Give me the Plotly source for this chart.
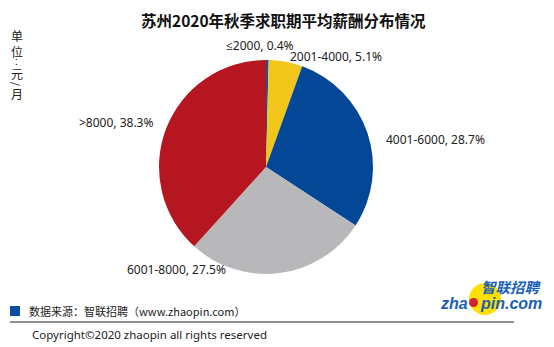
import math
import plotly.graph_objects as go

categories = ["≤2000", "2001-4000", "4001-6000", "6001-8000", ">8000"]
shares = [0.4, 5.1, 28.7, 27.5, 38.3]
colors = ["#1B4E9B", "#F1C519", "#054797", "#B8B8BA", "#B5161F"]

# label placement style: (x anchor, pixel offset dx, dy) relative to the slice's mid point on the rim
label_style = [("center", -7, -15), ("left", 2, -5), ("left", 17, 7), ("right", -52, -4), ("right", -11, -6)]

W, H = 554, 347
CX, CY, R = 266, 167, 107


def px(x):
    return x / W


def py(y):
    return 1 - y / H


fig = go.Figure(go.Pie(
    labels=categories, values=shares, sort=False, direction="clockwise", rotation=0,
    marker=dict(colors=colors, line=dict(width=0)),
    textinfo="none",
    domain=dict(x=[px(CX - R), px(CX + R)], y=[py(CY + R), py(CY - R)]),
    showlegend=False, hoverinfo="skip",
))

lab_font = dict(family="Noto Sans, Open Sans", size=12, color="#222")
font_cjk = "Noto Sans CJK SC"
ann = []
total = sum(shares)
cum = 0.0
for cat, v, (xa, dx, dy) in zip(categories, shares, label_style):
    mid = (cum + v / 2) / total * 2 * math.pi
    cum += v
    ex = CX + R * math.sin(mid)
    ey = CY - R * math.cos(mid)
    ann.append(dict(text=f"{cat}, {v:.1f}%", x=px(ex + dx), y=py(ey + dy),
                    xanchor=xa, yanchor="middle", showarrow=False, font=lab_font))

ann.append(dict(text="<b>苏州2020年秋季求职期平均薪酬分布情况</b>", x=px(283), y=py(20),
                xanchor="center", yanchor="middle", showarrow=False,
                font=dict(family=font_cjk, size=15.5, color="#111")))

unit_chars = [("单", 35, 0, 12), ("位", 51, 0, 12), ("‥", 62, 90, 10), ("元", 73, 0, 12),
              ("/", 84, 90, 10), ("月", 93, 0, 12)]
for ch, y, ang, sz in unit_chars:
    ann.append(dict(text=ch, x=px(17), y=py(y), xanchor="center", yanchor="middle",
                    showarrow=False, textangle=ang,
                    font=dict(family=font_cjk, size=sz, color="#222")))

ann.append(dict(text="数据来源：智联招聘（www.zhaopin.com）", x=px(27), y=py(311),
                xanchor="left", yanchor="middle", showarrow=False,
                font=dict(family=font_cjk, size=11, color="#222")))
ann.append(dict(text="Copyright©2020 zhaopin all rights reserved", x=px(30), y=py(334),
                xanchor="left", yanchor="middle", showarrow=False,
                font=dict(family="Noto Sans, Open Sans", size=11.5, color="#222")))
ann.append(dict(text="<b><i>智联招聘</i></b>", x=px(511), y=py(286),
                xanchor="center", yanchor="middle", showarrow=False,
                font=dict(family=font_cjk, size=14.5, color="#1A5FB4")))
ann.append(dict(text="<b><i>zha   pin.com</i></b>", x=px(491), y=py(303),
                xanchor="center", yanchor="middle", showarrow=False,
                font=dict(family="Liberation Sans, Arial", size=16, color="#1A5FB4")))

shapes = [
    dict(type="circle", xref="paper", yref="paper", x0=px(469), x1=px(501), y0=py(315), y1=py(283),
         fillcolor="#FFE100", line=dict(width=0), layer="below"),
    dict(type="circle", xref="paper", yref="paper", x0=px(469), x1=px(478), y0=py(307), y1=py(298),
         fillcolor="#D2232A", line=dict(width=0)),
    dict(type="rect", xref="paper", yref="paper", x0=px(10), x1=px(20), y0=py(316), y1=py(306),
         fillcolor="#0B4EA2", line=dict(width=0)),
    dict(type="line", xref="paper", yref="paper", x0=px(10), x1=px(514), y0=py(322), y1=py(322),
         line=dict(color="#222", width=1)),
]

fig.update_layout(width=W, height=H, margin=dict(l=0, r=0, t=0, b=0),
                  paper_bgcolor="white", plot_bgcolor="white",
                  annotations=ann, shapes=shapes)
fig.write_html("out.html")
